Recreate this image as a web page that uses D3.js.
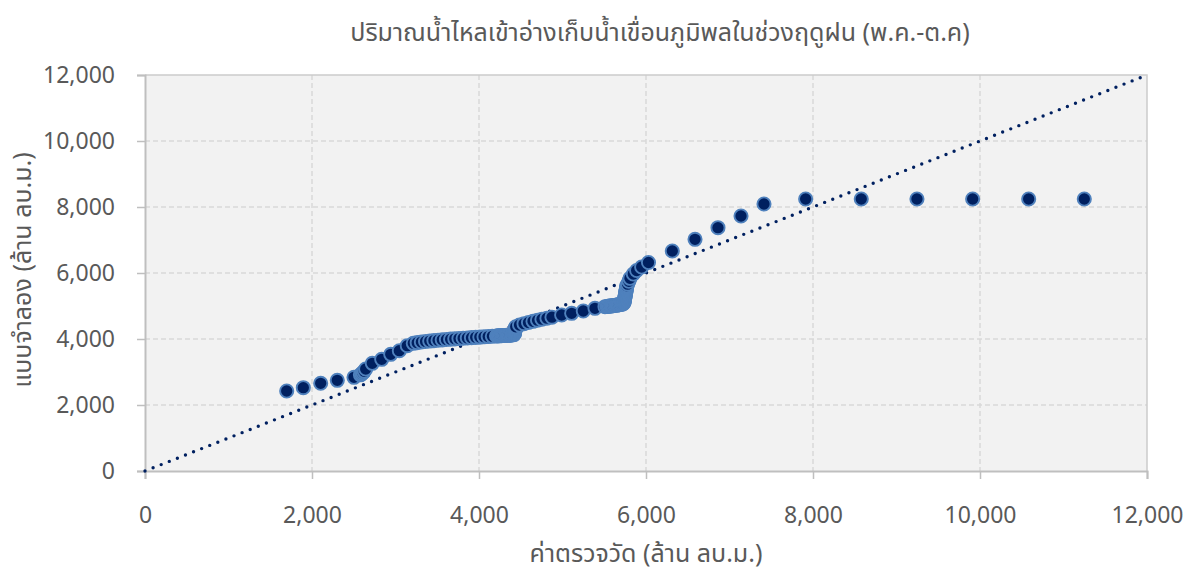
<!DOCTYPE html>
<html>
<head>
<meta charset="utf-8">
<script src="https://cdn.jsdelivr.net/npm/d3@7"></script>
<style>
  html, body { margin: 0; padding: 0; background: #ffffff; }
  svg { display: block; }
  text { font-family: "Noto Sans Thai", "Noto Sans", "DejaVu Sans", sans-serif; fill: #595959; }
</style>
</head>
<body>
<svg id="chart" width="1194" height="574"></svg>
<script>
// ---- Data ----
const titleText = "ปริมาณน้ำไหลเข้าอ่างเก็บน้ำเขื่อนภูมิพลในช่วงฤดูฝน (พ.ค.-ต.ค)";
const xTitle = "ค่าตรวจวัด (ล้าน ลบ.ม.)";
const yTitle = "แบบจำลอง (ล้าน ลบ.ม.)";
const xTicks = [0, 2000, 4000, 6000, 8000, 10000, 12000];
const yTicks = [0, 2000, 4000, 6000, 8000, 10000, 12000];
const refLine = [0, 12000];

// observed (x) values, sorted
const observed = [
  1697, 1896, 2104, 2303, 2503,
  2580, 2595, 2610, 2625, 2643,
  2722, 2835, 2943, 3046, 3141,
  3213, 3260, 3310, 3360, 3410, 3460, 3510, 3560, 3610, 3660, 3710,
  3760, 3810, 3860, 3910, 3960, 4010, 4060, 4110, 4160, 4210,
  4225, 4240, 4255, 4270, 4285, 4300, 4315, 4330, 4345, 4360, 4375, 4390, 4405, 4420,
  4424, 4426, 4428, 4430, 4432, 4434, 4436,
  4440, 4485, 4539, 4593, 4647, 4701, 4754, 4814, 4874, 4990, 5110, 5249, 5389, 5509,
  5530, 5545, 5560, 5575, 5590, 5605, 5620, 5635, 5650, 5665, 5680, 5695, 5710, 5725,
  5735, 5738, 5740, 5742, 5744, 5746, 5748, 5750, 5752, 5754, 5756, 5758, 5760, 5762,
  5764, 5766, 5768, 5770,
  5780, 5795, 5808, 5848, 5888, 5948, 6030,
  6315, 6587, 6862, 7138, 7413,
  7912, 8578, 9245, 9912, 10583, 11249
];
// simulated (y) values, sorted
const simulated = [
  2424, 2524, 2658, 2748, 2839,
  2915, 2945, 2980, 3020, 3091,
  3264, 3385, 3536, 3645, 3797,
  3870, 3890, 3908, 3924, 3938, 3951, 3963, 3974, 3985, 3995, 4005,
  4014, 4023, 4032, 4041, 4050, 4058, 4066, 4074, 4082, 4090,
  4095, 4098, 4100, 4102, 4104, 4106, 4108, 4110, 4112, 4115, 4118, 4122, 4127, 4135,
  4160, 4190, 4220, 4250, 4280, 4310, 4340,
  4370, 4424, 4464, 4500, 4536, 4570, 4600, 4630, 4661, 4727, 4779, 4848, 4930, 4979,
  4985, 4990, 4995, 5000, 5005, 5010, 5016, 5022, 5028, 5034, 5041, 5048, 5056, 5065,
  5090, 5120, 5150, 5180, 5210, 5240, 5270, 5300, 5330, 5360, 5390, 5420, 5450, 5480,
  5510, 5540, 5570, 5610,
  5660, 5750, 5839, 5970, 6076, 6182, 6318,
  6667, 7021, 7373, 7727, 8091,
  8242, 8242, 8242, 8242, 8242, 8242
];

// ---- Layout ----
const svg = d3.select("#chart");
const L = 145, R = 1147, T = 75, B = 471;
const x = d3.scaleLinear().domain([0, 12000]).range([L, R]);
const y = d3.scaleLinear().domain([0, 12000]).range([B, T]);

// plot background
svg.append("rect")
  .attr("x", L).attr("y", T).attr("width", R - L).attr("height", B - T)
  .attr("fill", "#f2f2f2");

// gridlines
const grid = svg.append("g");
grid.selectAll("line.vg").data(xTicks.filter(d => d > 0 && d < 12000)).enter().append("line")
  .attr("x1", d => x(d)).attr("x2", d => x(d)).attr("y1", T).attr("y2", B)
  .attr("stroke", "#d9d9d9").attr("stroke-width", 1.5).attr("stroke-dasharray", "5,3");
grid.selectAll("line.hg").data(yTicks.filter(d => d > 0 && d < 12000)).enter().append("line")
  .attr("x1", L).attr("x2", R).attr("y1", d => y(d)).attr("y2", d => y(d))
  .attr("stroke", "#d9d9d9").attr("stroke-width", 1.5).attr("stroke-dasharray", "5,3");
// border top/right
svg.append("path")
  .attr("d", `M${L},${y(12000)}H${x(12000)}V${B}`)
  .attr("fill", "none").attr("stroke", "#cccccc").attr("stroke-width", 1.5);

// axes
const xAxis = d3.axisBottom(x).tickValues(xTicks).tickFormat(d3.format(",")).tickSize(8).tickPadding(28);
const yAxis = d3.axisLeft(y).tickValues(yTicks).tickFormat(d3.format(",")).tickSize(8).tickPadding(22);
const gx = svg.append("g").attr("transform", `translate(0,${B})`).call(xAxis);
const gy = svg.append("g").attr("transform", `translate(${L},0)`).call(yAxis);
[gx, gy].forEach(g => {
  g.select(".domain").attr("stroke", "#bfbfbf").attr("stroke-width", 2);
  g.selectAll(".tick line").attr("stroke", "#bfbfbf").attr("stroke-width", 1.5);
  g.selectAll(".tick text").attr("fill", "#636363").style("font-size", "23px")
    .style("font-family", '"Noto Sans Thai", "Noto Sans", sans-serif');
});

// reference line y = x (dotted)
svg.append("line")
  .attr("x1", x(refLine[0])).attr("y1", y(refLine[0]))
  .attr("x2", x(refLine[1])).attr("y2", y(refLine[1]))
  .attr("stroke", "#002060").attr("stroke-width", 3.4)
  .attr("stroke-linecap", "round").attr("stroke-dasharray", "0,8.7");

// points
const pts = observed.map((v, i) => ({ o: v, s: simulated[i] }));
svg.append("g").selectAll("circle").data(pts).enter().append("circle")
  .attr("cx", d => x(d.o)).attr("cy", d => y(d.s)).attr("r", 6.6)
  .attr("fill", "#002060").attr("stroke", "#4f81bd").attr("stroke-width", 1.9);

// titles
svg.append("text").attr("x", 660).attr("y", 41).attr("text-anchor", "middle")
  .style("font-size", "25px").text(titleText);
svg.append("text").attr("x", 646).attr("y", 562).attr("text-anchor", "middle")
  .style("font-size", "25px").text(xTitle);
svg.append("text").attr("transform", "translate(31,270) rotate(-90)").attr("text-anchor", "middle")
  .style("font-size", "25px").text(yTitle);
</script>
</body>
</html>
